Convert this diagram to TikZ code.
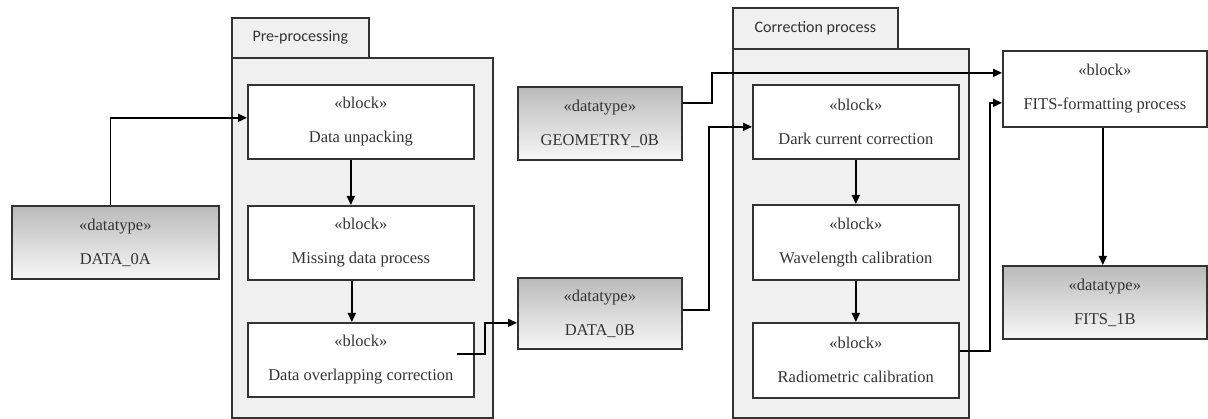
\documentclass[tikz,border=0pt]{standalone}
\usepackage{fontspec}
\setmainfont{Liberation Serif}
\newfontfamily\serfont{Liberation Serif}
\newfontfamily\tabfont{Carlito}
\usetikzlibrary{arrows.meta}
\tikzset{
  x=1pt, y=-1pt,
  boxline/.style={draw=black!80, line width=1.7pt},
  blk/.style={boxline, fill=white, anchor=north west, align=center, inner sep=0pt,
    text=black!80, font=\serfont\fontsize{16.5}{20}\selectfont},
  dtype/.style={boxline, top color=black!27, bottom color=black!3, anchor=north west,
    align=center, inner sep=0pt, text=black!80, font=\serfont\fontsize{16.5}{20}\selectfont},
  frame/.style={boxline, fill=black!6, anchor=north west, inner sep=0pt},
  tabbox/.style={boxline, fill=black!6, anchor=north west, inner sep=0pt,
    text=black!80, font=\tabfont\fontsize{16}{20}\selectfont},
  arr/.style={draw=black, line width=1.6pt, -{Triangle[length=9pt,width=8pt]}},
}
\newcommand{\stereo}[2]{«#1»\\[14pt]#2}
\begin{document}
\begin{tikzpicture}
\useasboundingbox (0,0) rectangle (1208,419);
% Pre-processing package
\node[frame, minimum width=261pt, minimum height=360pt] (preframe) at (231,57) {};
\node[tabbox, minimum width=137pt, minimum height=40pt] (pretab) at (231,17) {Pre-processing};
% Correction process package
\node[frame, minimum width=236pt, minimum height=369pt] (corrframe) at (732,48) {};
\node[tabbox, minimum width=165pt, minimum height=41pt] (corrtab) at (732,7) {Correction process};
% datatypes
\node[dtype, minimum width=207pt, minimum height=73pt] (d0a) at (11,205) {\stereo{datatype}{DATA\_0A}};
\node[dtype, minimum width=164pt, minimum height=73pt] (geo) at (517,86) {\stereo{datatype}{GEOMETRY\_0B}};
\node[dtype, minimum width=164pt, minimum height=71pt] (d0b) at (517,277) {\stereo{datatype}{DATA\_0B}};
\node[dtype, minimum width=204pt, minimum height=73pt] (fits1b) at (1002,265) {\stereo{datatype}{FITS\_1B}};
% blocks
\node[blk, minimum width=226pt, minimum height=74pt] (unpack) at (247,84) {\stereo{block}{Data unpacking}};
\node[blk, minimum width=226pt, minimum height=74pt] (missing) at (247,205) {\stereo{block}{Missing data process}};
\node[blk, minimum width=226pt, minimum height=74pt] (overlap) at (247,322) {\stereo{block}{Data overlapping correction}};
\node[blk, minimum width=206pt, minimum height=74pt] (dark) at (752,84) {\stereo{block}{Dark current correction}};
\node[blk, minimum width=206pt, minimum height=75pt] (wave) at (752,204) {\stereo{block}{Wavelength calibration}};
\node[blk, minimum width=206pt, minimum height=75pt] (radio) at (752,322) {\stereo{block}{Radiometric calibration}};
\node[blk, minimum width=204pt, minimum height=76pt] (fits) at (1002,50) {\stereo{block}{FITS-formatting process}};
% connectors
\draw[arr] ([xshift=-5pt]d0a.north) |- ([yshift=4pt]unpack.west);
\draw[arr] ([xshift=-10pt]unpack.south) -- ([xshift=-10pt]missing.north);
\draw[arr] ([xshift=-9pt]missing.south) -- ([xshift=-9pt]overlap.north);
\coordinate (ovs) at ([xshift=-18pt,yshift=6pt]overlap.east);
\draw[arr] (ovs) -- ++(28pt,0) |- ([yshift=-9.5pt]d0b.west);
\draw[arr] ([yshift=3.5pt]d0b.east) -- ++(26pt,0) |- ([yshift=-5pt]dark.west);
\draw[arr] ([yshift=20.5pt]geo.east) -- ++(29pt,0) |- ([yshift=16pt]fits.west);
\draw[arr] (dark.south) -- (wave.north);
\draw[arr] (wave.south) -- (radio.north);
\draw[arr] ([yshift=9.5pt]radio.east) -- ++(30pt,0) |- ([yshift=-14pt]fits.west);
\draw[arr] ([xshift=-2pt]fits.south) -- ([xshift=-2pt]fits1b.north);
\end{tikzpicture}
\end{document}
